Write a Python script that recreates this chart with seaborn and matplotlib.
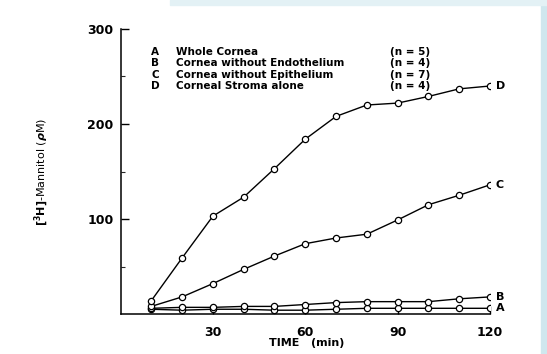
import numpy as np
import pandas as pd
import seaborn as sns
import matplotlib.pyplot as plt
from matplotlib.patches import Rectangle

# data
time_min = [10, 20, 30, 40, 50, 60, 70, 80, 90, 100, 110, 120]
whole_cornea = [5, 4, 5, 5, 4, 4, 5, 6, 6, 6, 6, 6]
no_endothelium = [6, 7, 7, 8, 8, 10, 12, 13, 13, 13, 16, 18]
no_epithelium = [8, 18, 32, 47, 61, 74, 80, 84, 99, 115, 125, 136]
stroma_alone = [14, 59, 103, 123, 153, 184, 208, 220, 222, 229, 237, 240]

series_keys = ['A', 'B', 'C', 'D']
series_names = ['Whole Cornea', 'Cornea without Endothelium',
                'Cornea without Epithelium', 'Corneal Stroma alone']
series_n = ['(n = 5)', '(n = 4)', '(n = 7)', '(n = 4)']

df = pd.DataFrame({
    'time': time_min * 4,
    'mannitol': whole_cornea + no_endothelium + no_epithelium + stroma_alone,
    'group': np.repeat(series_keys, len(time_min)),
})

sns.set_style('ticks')
plt.rcParams['font.family'] = ['DejaVu Sans']
plt.rcParams['font.weight'] = 'bold'
plt.rcParams['text.color'] = 'black'
plt.rcParams['axes.labelcolor'] = 'black'

fig = plt.figure(figsize=(5.47, 3.54), dpi=100)
fig.patch.set_facecolor('white')
# faint blue scan border on the right and top
fig.add_artist(Rectangle((541 / 547, 0), 6 / 547, 1, transform=fig.transFigure,
                         color='#cfe7ee', zorder=-5))
fig.add_artist(Rectangle((170 / 547, 349 / 354), 377 / 547, 5 / 354,
                         transform=fig.transFigure, color='#e3f1f5', zorder=-5))

ax = fig.add_axes([120.5 / 547, 40 / 354, 369.5 / 547, 285 / 354])

sns.lineplot(data=df, x='time', y='mannitol', units='group', estimator=None,
             color='black', lw=1, marker='o', markersize=4.5,
             markerfacecolor='white', markeredgecolor='black',
             markeredgewidth=0.9, ax=ax, legend=False)

ax.set_xlim(0, 120)
ax.set_ylim(0, 300)
ax.set_xticks([30, 60, 90, 120])
ax.set_yticks([100, 200, 300])
ax.set_yticks([50, 150, 250], minor=True)
ax.tick_params(axis='both', direction='in', length=6, width=1, labelsize=9,
               colors='black')
ax.tick_params(axis='x', pad=9)
ax.tick_params(axis='y', pad=5)
ax.tick_params(axis='y', which='minor', direction='in', length=3, width=0.8)
for lab in ax.get_xticklabels() + ax.get_yticklabels():
    lab.set_fontweight('bold')
sns.despine(ax=ax)
for s in ['left', 'bottom']:
    ax.spines[s].set_linewidth(1.1)
    ax.spines[s].set_color('black')

ax.set_xlabel('TIME   (min)', fontsize=8, fontweight='bold')
ax.xaxis.set_label_coords(0.505, -0.085)
ax.set_ylabel(r'$\left[^{3}\mathrm{H}\right]$-Mannitol ($\rho$M)',
              fontsize=8, fontweight='normal', labelpad=26)

# end-of-line letters
end_vals = [whole_cornea[-1], no_endothelium[-1], no_epithelium[-1], stroma_alone[-1]]
for key, v in zip(series_keys, end_vals):
    ax.annotate(key, (time_min[-1], v), xytext=(4, 0), textcoords='offset points',
                va='center', ha='left', fontsize=8, fontweight='bold',
                annotation_clip=False)

# key text block
row_y = [276, 264, 252, 240]
for key, name, n, y in zip(series_keys, series_names, series_n, row_y):
    ax.text(10, y, key, fontsize=7.5, fontweight='bold', va='center')
    ax.text(18, y, name, fontsize=7.5, fontweight='bold', va='center')
    ax.text(87.5, y, n, fontsize=7.5, fontweight='bold', va='center')

fig.savefig('out.png', dpi=100, facecolor=fig.get_facecolor())
